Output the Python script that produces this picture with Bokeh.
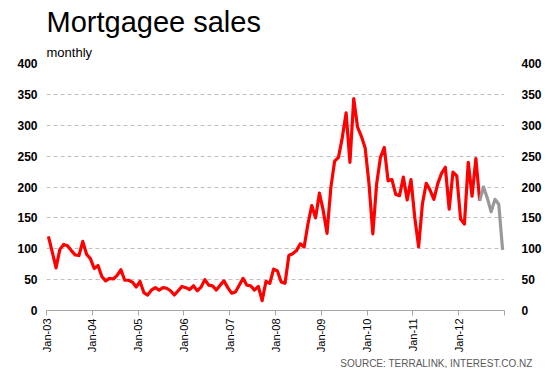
import math
from bokeh.plotting import figure
from bokeh.models import Range1d, LinearAxis, FixedTicker, Title
from bokeh.embed import file_html
from bokeh.resources import INLINE

# ---- data (monthly, Jan-03 .. Dec-12) ----
tick_labels = ["Jan-03", "Jan-04", "Jan-05", "Jan-06", "Jan-07",
               "Jan-08", "Jan-09", "Jan-10", "Jan-11", "Jan-12"]

red_values = [
    120, 95, 69, 99, 107, 105, 97, 90, 89, 112, 91, 84,      # 2003
    68, 73, 55, 48, 52, 51, 57, 66, 49, 49, 46, 38,          # 2004
    47, 29, 25, 33, 37, 33, 37, 36, 32, 25, 32, 39,          # 2005
    37, 34, 40, 32, 38, 50, 41, 40, 33, 41, 48, 37,          # 2006
    28, 30, 41, 52, 41, 40, 33, 39, 16, 47, 44, 67,          # 2007
    64, 46, 44, 89, 92, 97, 108, 103, 140, 170, 150, 190,    # 2008
    162, 125, 199, 242, 248, 280, 320, 240, 343, 297, 282, 263,  # 2009
    205, 124, 205, 248, 264, 210, 212, 188, 186, 216, 179, 212,  # 2010
    150, 103, 173, 206, 195, 180, 205, 222, 232, 164, 224, 218,  # 2011
    148, 140, 240, 185, 246, 178,                            # 2012 Jan-Jun
]
gray_values = [178, 200, 182, 160, 180, 172, 98]              # 2012 Jun-Dec
gray_start_month = 113
y_ticks = [0, 50, 100, 150, 200, 250, 300, 350, 400]

FONT = "Liberation Sans"

red_x = [i + 0.5 for i in range(len(red_values))]
gray_x = [gray_start_month + i + 0.5 for i in range(len(gray_values))]
x_ticks = [12 * k for k in range(len(tick_labels) + 1)]
overrides = {12 * k: lab for k, lab in enumerate(tick_labels)}
overrides[x_ticks[-1]] = ""

p = figure(width=546, height=368, output_backend="svg", toolbar_location=None,
           x_range=Range1d(0, 120), y_range=Range1d(0, 400), title=None,
           min_border_left=46, min_border_right=42,
           min_border_top=63, min_border_bottom=57)
p.outline_line_color = None
p.background_fill_color = "white"
p.border_fill_color = "white"

# titles
sub = Title(text="monthly", text_font=FONT, text_font_size="13px",
            text_font_style="normal", text_color="black", standoff=8)
p.add_layout(sub, "above")
main = Title(text="Mortgagee sales", text_font=FONT, text_font_size="29px",
             text_font_style="normal", text_color="black", standoff=2)
p.add_layout(main, "above")

# y axes
yl = p.yaxis[0]
yr = LinearAxis()
p.add_layout(yr, "right")
for ax, so in ((yl, 9), (yr, 17)):
    ax.ticker = FixedTicker(ticks=y_ticks)
    ax.axis_line_color = None
    ax.major_tick_line_color = None
    ax.minor_tick_line_color = None
    ax.major_tick_out = 0
    ax.major_tick_in = 0
    ax.major_label_standoff = so
    ax.major_label_text_font = FONT
    ax.major_label_text_font_size = "12px"
    ax.major_label_text_font_style = "bold"
    ax.major_label_text_color = "black"

# x axis
xa = p.xaxis[0]
xa.ticker = FixedTicker(ticks=x_ticks)
xa.major_label_overrides = overrides
xa.major_label_orientation = math.pi / 2
xa.axis_line_color = "#a6a6a6"
xa.major_tick_line_color = "#a6a6a6"
xa.minor_tick_line_color = None
xa.major_tick_out = 5
xa.major_tick_in = 0
xa.major_label_standoff = 3
xa.major_label_text_font = FONT
xa.major_label_text_font_size = "11px"
xa.major_label_text_color = "black"

# grid
p.xgrid.visible = False
p.ygrid.ticker = FixedTicker(ticks=y_ticks)
p.ygrid.grid_line_color = "#c0c0c0"
p.ygrid.grid_line_dash = "4 3"
p.ygrid.grid_line_width = 1

# source
src = Title(text="SOURCE: TERRALINK, INTEREST.CO.NZ", align="right", offset=-28,
            text_font=FONT, text_font_size="10px", text_font_style="normal",
            text_color="#595959", standoff=0)
p.add_layout(src, "below")

# lines
p.line(red_x, red_values, line_color="#ff0000", line_width=3.2, line_join="round")
p.line(gray_x, gray_values, line_color="#999999", line_width=3.2, line_join="round")

open("out.html", "w").write(file_html(p, INLINE))
